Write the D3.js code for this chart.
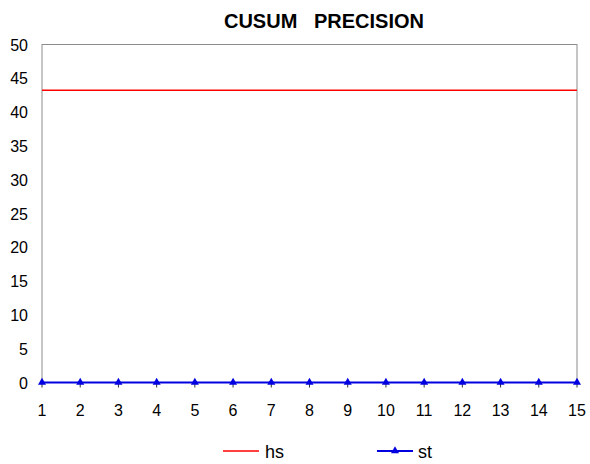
<!DOCTYPE html>
<html>
<head>
<meta charset="utf-8">
<script src="https://cdn.jsdelivr.net/npm/d3@7"></script>
<style>
  body { margin: 0; background: #fff; }
  text { font-family: "Liberation Sans", Arial, sans-serif; }
</style>
</head>
<body>
<div id="chart"></div>
<script>
const categories = [1, 2, 3, 4, 5, 6, 7, 8, 9, 10, 11, 12, 13, 14, 15];
const hsValues = [43.25, 43.25, 43.25, 43.25, 43.25, 43.25, 43.25, 43.25, 43.25, 43.25, 43.25, 43.25, 43.25, 43.25, 43.25];
const stValues = [0, 0, 0, 0, 0, 0, 0, 0, 0, 0, 0, 0, 0, 0, 0];
const yTicks = [0, 5, 10, 15, 20, 25, 30, 35, 40, 45, 50];

const width = 590, height = 464;
const plotLeft = 42, plotRight = 577, plotTop = 44.5, plotBottom = 382.5;

const svg = d3.select("#chart").append("svg").attr("width", width).attr("height", height);

const x = d3.scalePoint().domain(categories).range([plotLeft, plotRight]);
const y = d3.scaleLinear().domain([0, 50]).range([plotBottom, plotTop]);

// title
svg.append("text")
    .attr("x", 324).attr("y", 28)
    .attr("text-anchor", "middle")
    .attr("font-size", 20).attr("font-weight", "bold")
    .style("white-space", "pre")
    .text("CUSUM   PRECISION");

// plot border
svg.append("rect")
    .attr("x", plotLeft).attr("y", plotTop)
    .attr("width", plotRight - plotLeft).attr("height", plotBottom - plotTop)
    .attr("fill", "none").attr("stroke", "#8c8c8c").attr("stroke-width", 1);

// y axis labels
svg.selectAll(".ylab").data(yTicks).enter().append("text")
    .attr("x", 28).attr("y", d => y(d) + 6)
    .attr("text-anchor", "end").attr("font-size", 16)
    .text(d => d);

// x ticks
svg.selectAll(".xtick").data(categories).enter().append("line")
    .attr("x1", d => x(d)).attr("x2", d => x(d))
    .attr("y1", plotBottom).attr("y2", plotBottom + 5)
    .attr("stroke", "#333").attr("stroke-width", 1);

svg.selectAll(".xlab").data(categories).enter().append("text")
    .attr("x", d => x(d)).attr("y", 415.5)
    .attr("text-anchor", "middle").attr("font-size", 16)
    .text(d => d);

const line = d3.line().x((d, i) => x(categories[i])).y(d => y(d));

svg.append("path").datum(hsValues)
    .attr("d", line).attr("fill", "none")
    .attr("stroke", "#ff0000").attr("stroke-width", 1.5);

svg.append("path").datum(stValues)
    .attr("d", line).attr("fill", "none")
    .attr("stroke", "#0000e0").attr("stroke-width", 2);

const tri = d3.symbol().type(d3.symbolTriangle).size(28);
svg.selectAll(".mk").data(stValues).enter().append("path")
    .attr("d", tri)
    .attr("transform", (d, i) => `translate(${x(categories[i])},${y(d)})`)
    .attr("fill", "#0000e0");

// legend
const lg = svg.append("g");
lg.append("line").attr("x1", 223).attr("x2", 259).attr("y1", 451).attr("y2", 451)
    .attr("stroke", "#ff0000").attr("stroke-width", 1.5);
lg.append("text").attr("x", 265).attr("y", 458).attr("font-size", 18).text("hs");
lg.append("line").attr("x1", 377).attr("x2", 413).attr("y1", 451).attr("y2", 451)
    .attr("stroke", "#0000e0").attr("stroke-width", 2);
lg.append("path").attr("d", tri).attr("transform", "translate(395,451)").attr("fill", "#0000e0");
lg.append("text").attr("x", 418).attr("y", 458).attr("font-size", 18).text("st");
</script>
</body>
</html>
